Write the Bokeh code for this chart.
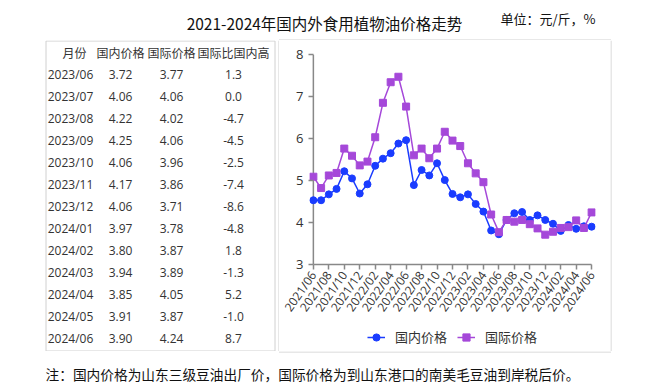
import math
from bokeh.plotting import figure
from bokeh.models import Range1d, FixedTicker, Legend, LegendItem, Span
from bokeh.layouts import column, row
from bokeh.embed import file_html
from bokeh.resources import INLINE
from bokeh.core.properties import value

# ---------------- data ----------------
months = [
    "2021/06", "2021/07", "2021/08", "2021/09", "2021/10", "2021/11", "2021/12",
    "2022/01", "2022/02", "2022/03", "2022/04", "2022/05", "2022/06", "2022/07",
    "2022/08", "2022/09", "2022/10", "2022/11", "2022/12", "2023/01", "2023/02",
    "2023/03", "2023/04", "2023/05", "2023/06", "2023/07", "2023/08", "2023/09",
    "2023/10", "2023/11", "2023/12", "2024/01", "2024/02", "2024/03", "2024/04",
    "2024/05", "2024/06",
]
domestic = [
    4.53, 4.53, 4.67, 4.80, 5.22, 5.05, 4.69, 4.91, 5.35, 5.52, 5.65, 5.88, 5.96,
    4.89, 5.25, 5.12, 5.41, 5.01, 4.68, 4.60, 4.67, 4.44, 4.26, 3.81,
    3.72, 4.06, 4.22, 4.25, 4.06, 4.17, 4.06, 3.97, 3.80, 3.94, 3.85, 3.91, 3.90,
]
international = [
    5.09, 4.82, 5.12, 5.18, 5.76, 5.59, 5.36, 5.45, 6.03, 6.85, 7.34, 7.47, 6.76,
    5.60, 5.76, 5.53, 5.76, 6.16, 5.95, 5.82, 5.41, 5.17, 4.96, 4.19,
    3.77, 4.06, 4.02, 4.06, 3.96, 3.86, 3.71, 3.78, 3.87, 3.89, 4.05, 3.87, 4.24,
]
table_header = ["月份", "国内价格", "国际价格", "国际比国内高"]
table_months = ["2023/06", "2023/07", "2023/08", "2023/09", "2023/10", "2023/11",
                "2023/12", "2024/01", "2024/02", "2024/03", "2024/04", "2024/05",
                "2024/06"]
table_domestic = [3.72, 4.06, 4.22, 4.25, 4.06, 4.17, 4.06, 3.97, 3.80, 3.94, 3.85, 3.91, 3.90]
table_intl = [3.77, 4.06, 4.02, 4.06, 3.96, 3.86, 3.71, 3.78, 3.87, 3.89, 4.05, 3.87, 4.24]
table_diff = [1.3, 0.0, -4.7, -4.5, -2.5, -7.4, -8.6, -4.8, 1.8, -1.3, 5.2, -1.0, 8.7]

title_text = "2021-2024年国内外食用植物油价格走势"
unit_text = "单位：元/斤，%"
note_text = "注：国内价格为山东三级豆油出厂价，国际价格为到山东港口的南美毛豆油到岸税后价。"
series_names = ["国内价格", "国际价格"]

CJK = value("Noto Sans CJK SC")
LAT = value("Open Sans")
BLUE = "#1a3cff"
PURPLE = "#a548d9"
TXT = "#333333"
AXC = "#888888"
BOXC = "#d0d0d0"


def blank(w, h, xr=None, yr=None):
    f = figure(width=w, height=h, x_range=xr or Range1d(0, w),
               y_range=yr or Range1d(h, 0), x_axis_type=None, y_axis_type=None,
               toolbar_location=None, output_backend="svg", min_border=0)
    f.outline_line_color = None
    f.grid.visible = False
    return f


def txt(f, x, y, text, font, size, align="center", color=TXT):
    f.text(x=x, y=y, text=text, text_font=font, text_font_size=size,
           text_align=align, text_baseline="middle", text_color=color)


# ---------------- top: title + unit (page y 0-40) ----------------
top = blank(650, 40)
txt(top, [324], [22], [title_text], CJK, "15.5px", color="#111111")
txt(top, [500], [18], [unit_text], CJK, "13px", align="left", color="#111111")
top.segment(x0=[278.5], y0=[39.5], x1=[610.5], y1=[39.5], line_color=BOXC, line_width=1)

# ---------------- table (page x 0-279, y 40-351) ----------------
tab = blank(279, 311)
tab.quad(left=[45.5], right=[274.5], top=[0.5], bottom=[310.5], fill_alpha=0,
         line_color=BOXC, line_width=1)
tab.segment(x0=[278.5], y0=[0], x1=[278.5], y1=[311], line_color=BOXC, line_width=1)
txt(tab, [74, 120, 171, 233], [12] * 4, table_header, CJK, "12px")
ry = [34 + 22 * i for i in range(len(table_months))]
n = len(ry)
txt(tab, [70] * n, ry, table_months, LAT, "12px")
txt(tab, [120] * n, ry, [f"{v:.2f}" for v in table_domestic], LAT, "12px")
txt(tab, [171] * n, ry, [f"{v:.2f}" for v in table_intl], LAT, "12px")
txt(tab, [233] * n, ry, [f"{v:.1f}" for v in table_diff], LAT, "12px")

# ---------------- chart (page x 279-610, y 40-322) ----------------
xs = list(range(len(months)))
p = figure(width=331, height=282, x_range=Range1d(-0.5, len(months) - 0.5),
           y_range=Range1d(3, 8), toolbar_location=None, output_backend="svg",
           min_border_left=30, min_border_right=15, min_border_top=14,
           min_border_bottom=57)
p.outline_line_color = None
p.grid.visible = False
p.add_layout(Span(location=0, dimension="height", line_color=AXC, line_width=1.5,
                  level="underlay"))

p.line(xs, domestic, line_color=BLUE, line_width=1.5)
p.scatter(xs, domestic, marker="circle", size=7, fill_color=BLUE, line_color=BLUE)
p.line(xs, international, line_color=PURPLE, line_width=1.5)
p.scatter(xs, international, marker="square", size=7, fill_color=PURPLE,
          line_color=PURPLE)

xa = p.xaxis[0]
xa.bounds = (0, len(months) - 1)
xa.ticker = FixedTicker(ticks=xs[::2])
xa.major_label_overrides = {i: months[i] for i in xs[::2]}
xa.major_label_orientation = math.radians(55)
xa.axis_line_color = AXC
xa.major_tick_out = 5
xa.major_tick_in = 0
ya = p.yaxis[0]
ya.ticker = FixedTicker(ticks=[3, 4, 5, 6, 7, 8])
ya.axis_line_color = None
ya.major_tick_out = 1
ya.major_tick_in = 4
for ax in (xa, ya):
    ax.axis_line_width = 1.5
    ax.major_tick_line_color = AXC
    ax.major_tick_line_width = 1.5
    ax.minor_tick_line_color = None
    ax.major_label_text_color = TXT
    ax.major_label_text_font = "Open Sans"
xa.major_label_text_font_size = "12px"
ya.major_label_text_font_size = "13px"
xa.major_label_standoff = 3
ya.major_label_standoff = 5

# ---------------- legend (page x 279-610, y 322-351) ----------------
# the series are drawn again here only to feed the legend; the ranges keep them out of view
lf = blank(331, 29, xr=Range1d(1000, 1331), yr=Range1d(1029, 1000))
r1 = [lf.line(xs, domestic, line_color=BLUE, line_width=1.5),
      lf.scatter(xs, domestic, marker="circle", size=10, fill_color=BLUE,
                 line_color=BLUE)]
r2 = [lf.line(xs, international, line_color=PURPLE, line_width=1.5),
      lf.scatter(xs, international, marker="square", size=10, fill_color=PURPLE,
                 line_color=PURPLE)]
legend = Legend(items=[LegendItem(label=series_names[0], renderers=r1),
                       LegendItem(label=series_names[1], renderers=r2)],
                orientation="horizontal", location="center",
                label_text_font="Noto Sans CJK SC", label_text_font_size="13px",
                label_text_color=TXT, border_line_color=None,
                background_fill_alpha=0, glyph_width=18, label_standoff=10,
                spacing=10, margin=0, padding=0)
lf.add_layout(legend)

# ---------------- right spacer (page x 610-650) ----------------
sp = blank(40, 311)
sp.segment(x0=[0.5], y0=[0], x1=[0.5], y1=[311], line_color=BOXC, line_width=1)

# ---------------- bottom: note (page y 351-387) ----------------
bot = blank(650, 36)
bot.segment(x0=[278.5], y0=[0.5], x1=[610.5], y1=[0.5], line_color=BOXC, line_width=1)
txt(bot, [45], [22], [note_text], CJK, "13.7px", align="left", color="#111111")

layout = column(top, row(tab, column(p, lf), sp), bot)
open("out.html", "w").write(file_html(layout, INLINE))
